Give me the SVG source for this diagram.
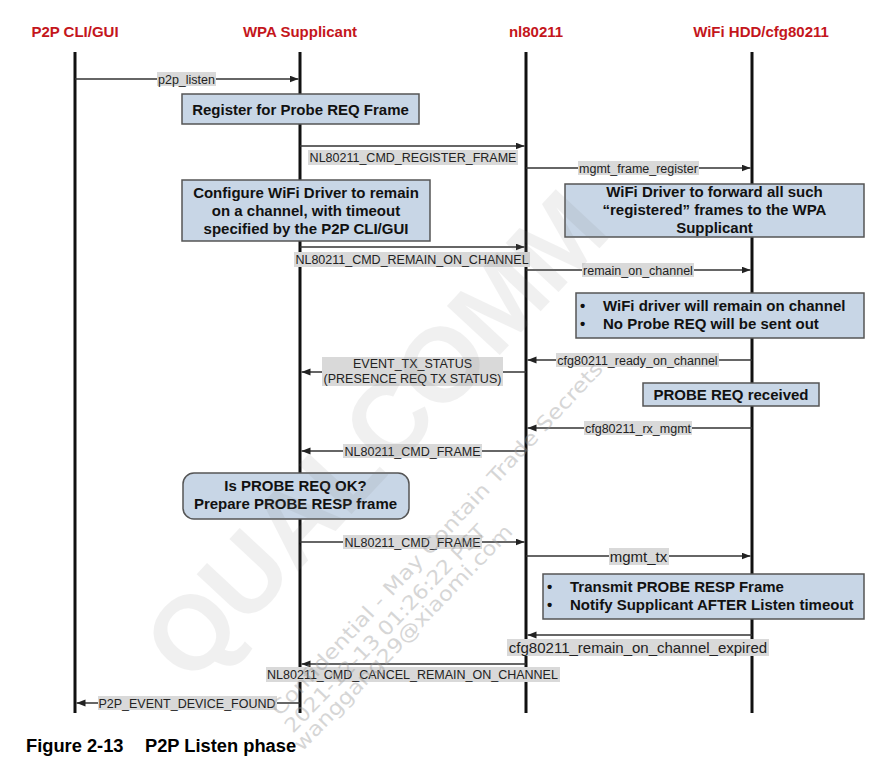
<svg xmlns="http://www.w3.org/2000/svg" width="889" height="776" viewBox="0 0 889 776">
<style>
.hdr{font-family:"Liberation Sans",Arial,sans-serif;font-size:15px;font-weight:bold;fill:#c4161c;text-anchor:middle}
.life{stroke:#111;stroke-width:3;fill:none}
.msg{stroke:#333;stroke-width:1.3;fill:none;marker-end:url(#ah)}
.lb{fill:#d9d9d9}
.lt{font-family:"Liberation Sans",Arial,sans-serif;font-size:12.5px;fill:#222;text-anchor:middle}
.lt15{font-family:"Liberation Sans",Arial,sans-serif;font-size:15px;fill:#222;text-anchor:middle}
.box{fill:#c8d6e6;stroke:#555;stroke-width:1.5}
.bt{font-family:"Liberation Sans",Arial,sans-serif;font-size:15px;font-weight:bold;fill:#111;text-anchor:middle}
.bl{font-family:"Liberation Sans",Arial,sans-serif;font-size:15px;font-weight:bold;fill:#111}
.cap{font-family:"Liberation Sans",Arial,sans-serif;font-size:18.3px;font-weight:bold;fill:#000}
.wm{font-family:"DejaVu Sans",sans-serif;font-size:20px;fill:#9a9a9a;opacity:0.4}
.wmbig{font-family:"Liberation Sans",Arial,sans-serif;font-size:105px;font-weight:bold;fill:#808080;opacity:0.11;text-anchor:middle}
</style>
<defs>
<marker id="ah" markerUnits="userSpaceOnUse" markerWidth="10" markerHeight="8" refX="9" refY="3.5" orient="auto">
<path d="M0,0 L9,3.5 L0,7 z" fill="#222"/>
</marker>
</defs>
<rect width="889" height="776" fill="#fff"/>

<g id="p2p-cli">
<text class="hdr" x="75" y="37">P2P CLI/GUI</text>
<line class="life" x1="75" y1="52" x2="75" y2="713"/>
</g>
<g id="wpa-supplicant">
<text class="hdr" x="300" y="37">WPA Supplicant</text>
<line class="life" x1="300" y1="52" x2="300" y2="713"/>
</g>
<g id="nl80211">
<text class="hdr" x="536" y="37">nl80211</text>
<line class="life" x1="526" y1="52" x2="526" y2="713"/>
</g>
<g id="wifi-hdd">
<text class="hdr" x="761" y="37">WiFi HDD/cfg80211</text>
<line class="life" x1="752" y1="52" x2="752" y2="713"/>
</g>

<g id="connectors">
<path class="msg" d="M75 79 H298.5"/>
<rect class="lb" x="157" y="72" width="59" height="14"/>
<text class="lt" x="186.5" y="83.5">p2p_listen</text>

<path class="msg" d="M300 146 H524.5"/>
<rect class="lb" x="308" y="150" width="210" height="15"/>
<text class="lt" x="413" y="161.5">NL80211_CMD_REGISTER_FRAME</text>

<path class="msg" d="M526 168 H750.5"/>
<rect class="lb" x="578" y="161" width="121" height="14"/>
<text class="lt" x="638.5" y="172.5">mgmt_frame_register</text>

<path class="msg" d="M300 247 H524.5"/>
<rect class="lb" x="294" y="252" width="236" height="15"/>
<text class="lt" x="412" y="263.5">NL80211_CMD_REMAIN_ON_CHANNEL</text>

<path class="msg" d="M526 270 H750.5"/>
<rect class="lb" x="582" y="263" width="112" height="14"/>
<text class="lt" x="638" y="274.5">remain_on_channel</text>

<path class="msg" d="M752 360 H527.5"/>
<rect class="lb" x="556" y="353" width="163" height="14"/>
<text class="lt" x="637.5" y="364.5">cfg80211_ready_on_channel</text>

<path class="msg" d="M526 372 H301.5"/>
<rect class="lb" x="322" y="357" width="181" height="29"/>
<text class="lt" x="412.5" y="367.5">EVENT_TX_STATUS</text>
<text class="lt" x="412.5" y="382.5">(PRESENCE REQ TX STATUS)</text>

<path class="msg" d="M752 428 H527.5"/>
<rect class="lb" x="584" y="421" width="108" height="14"/>
<text class="lt" x="638" y="432.5">cfg80211_rx_mgmt</text>

<path class="msg" d="M526 451 H301.5"/>
<rect class="lb" x="343" y="444" width="139" height="14"/>
<text class="lt" x="412.5" y="455.5">NL80211_CMD_FRAME</text>

<path class="msg" d="M300 542 H524.5"/>
<rect class="lb" x="343" y="535" width="139" height="14"/>
<text class="lt" x="412.5" y="546.5">NL80211_CMD_FRAME</text>

<path class="msg" d="M526 556 H750.5"/>
<rect class="lb" x="609" y="548" width="60" height="17"/>
<text class="lt15" x="638.5" y="561.5">mgmt_tx</text>

<path class="msg" d="M752 635 H527.5"/>
<rect class="lb" x="507" y="639" width="262" height="17"/>
<text class="lt15" x="638" y="652.5">cfg80211_remain_on_channel_expired</text>

<path class="msg" d="M526 664 H301.5"/>
<rect class="lb" x="266" y="667" width="294" height="15"/>
<text class="lt" x="412.5" y="678.5">NL80211_CMD_CANCEL_REMAIN_ON_CHANNEL</text>

<path class="msg" d="M300 703 H76.5"/>
<rect class="lb" x="98" y="696" width="179" height="14"/>
<text class="lt" x="187" y="707.5">P2P_EVENT_DEVICE_FOUND</text>
</g>

<g id="register-probe-req">
<rect class="box" x="182" y="94" width="237" height="30"/>
<text class="bt" x="300.5" y="114.5">Register for Probe REQ Frame</text>
</g>

<g id="configure-driver">
<rect class="box" x="182" y="180" width="248" height="61"/>
<text class="bt" x="306" y="197.5">Configure WiFi Driver to remain</text>
<text class="bt" x="306" y="215.5">on a channel, with timeout</text>
<text class="bt" x="306" y="233.5">specified by the P2P CLI/GUI</text>
</g>

<g id="driver-forward">
<rect class="box" x="565" y="184" width="299" height="53"/>
<text class="bt" x="714.5" y="197">WiFi Driver to forward all such</text>
<text class="bt" x="714.5" y="215">“registered” frames to the WPA</text>
<text class="bt" x="714.5" y="233">Supplicant</text>
</g>

<g id="remain-on-channel-note">
<rect class="box" x="576" y="293" width="288" height="45"/>
<text class="bl" x="580" y="310.5">•</text>
<text class="bl" x="603" y="310.5">WiFi driver will remain on channel</text>
<text class="bl" x="580" y="328.5">•</text>
<text class="bl" x="603" y="328.5">No Probe REQ will be sent out</text>
</g>

<g id="probe-req-received">
<rect class="box" x="643" y="383" width="176" height="23"/>
<text class="bt" x="731" y="399.5">PROBE REQ received</text>
</g>

<g id="probe-req-ok">
<rect class="box" x="183" y="473" width="226" height="46" rx="11" ry="11"/>
<text class="bt" x="295.5" y="491">Is PROBE REQ OK?</text>
<text class="bt" x="295.5" y="509">Prepare PROBE RESP frame</text>
</g>

<g id="transmit-note">
<rect class="box" x="543" y="574" width="321" height="45"/>
<text class="bl" x="547" y="592">•</text>
<text class="bl" x="570" y="592">Transmit PROBE RESP Frame</text>
<text class="bl" x="547" y="609.5">•</text>
<text class="bl" x="570" y="609.5">Notify Supplicant AFTER Listen timeout</text>
</g>

<g id="caption">
<text class="cap" x="26" y="752">Figure 2-13</text>
<text class="cap" x="145" y="752">P2P Listen phase</text>
</g>

<g id="watermark">
<text class="wmbig" x="402" y="460" transform="rotate(-47 402 460)" textLength="620" lengthAdjust="spacing">QUALCOMM</text>
<text class="wm" x="280" y="717" transform="rotate(-47 280 717)" textLength="475" lengthAdjust="spacingAndGlyphs">Confidential - May Contain Trade Secrets</text>
<text class="wm" x="293" y="734" transform="rotate(-46 293 734)" textLength="280" lengthAdjust="spacingAndGlyphs">2021-12-13 01:26:22 PST</text>
<text class="wm" x="302" y="752" transform="rotate(-46 302 752)" textLength="305" lengthAdjust="spacingAndGlyphs">wanggang29@xiaomi.com</text>
</g>
</svg>
